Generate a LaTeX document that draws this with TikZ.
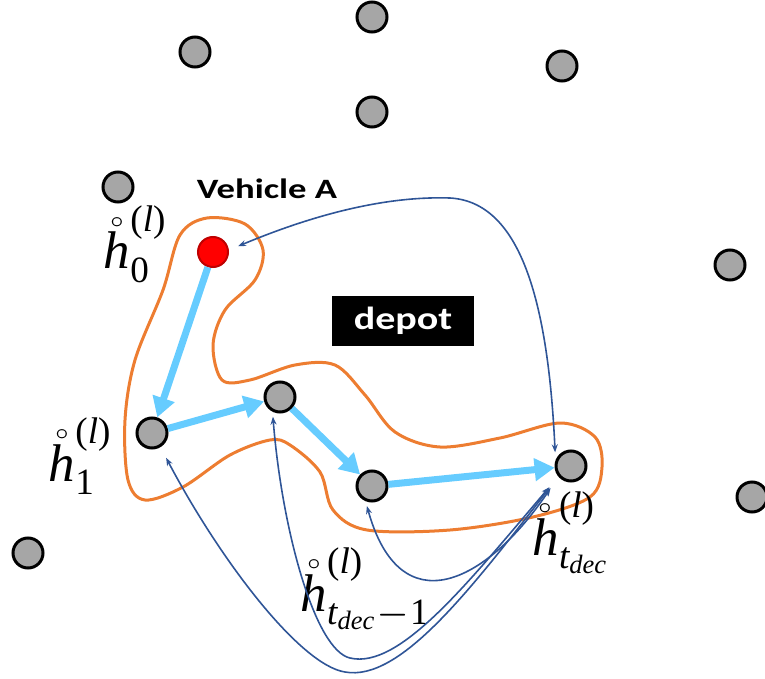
\documentclass[tikz,border=0pt]{standalone}
\usepackage{amsmath}
\usepackage{graphicx}
\usepackage{fontspec}
\setsansfont{Carlito}
\newfontfamily\timesfont{Liberation Serif}
\usepackage{tikz}
\usetikzlibrary{arrows.meta}

\definecolor{routeblue}{RGB}{102,204,255}
\definecolor{attnblue}{RGB}{47,85,151}
\definecolor{tourorange}{RGB}{237,125,49}

% h-state label: ring over italic h, superscript (l)
\newcommand{\ti}[1]{\text{\timesfont\itshape #1}}
\newcommand{\tu}[1]{\text{\timesfont\upshape #1}}
\newcommand{\hstate}[1]{\scalebox{5.3}{$\mathring{\ti{h}}_{#1}^{\tu{(}\ti{l\/}\tu{)}}$}}
\newcommand{\tdec}{\ti{t}_{\ti{dec}}}

\begin{document}
\begin{tikzpicture}[x=1pt, y=-1pt,
    custnode/.style={circle, draw=black, line width=3pt, fill=gray!70, minimum size=30pt, inner sep=0pt},
    firstnode/.style={circle, draw=red!75!black, line width=2pt, fill=red, minimum size=30pt, inner sep=0pt},
    route/.style={-{Triangle[length=20pt,width=22pt]}, line width=7pt, draw=routeblue},
    attn/.style={{Stealth[length=8pt,width=6pt]}-{Stealth[length=8pt,width=6pt]}, line width=1.6pt, draw=attnblue},
    tourline/.style={draw=tourorange, line width=3pt},
    hlabel/.style={inner sep=0pt}
]
    \useasboundingbox (0,0) rectangle (765,679);

    % Vehicle tour outline
    \draw[tourline] plot[smooth cycle, tension=0.55] coordinates {
        (207,218) (245,224) (263,250) (255,280) (225,310) (213,345) (222,380)
        (250,380) (295,365) (335,365) (365,395) (395,432) (440,447) (500,438)
        (560,423) (595,437) (602,467) (590,497) (533,517) (450,530) (367,530)
        (333,510) (320,472) (290,445) (270,440) (230,455) (183,487) (145,500)
        (128,480) (125,420) (135,360) (163,290) (180,235)};

    % Other customers
    \node[custnode] (c1) at (372,17) {};
    \node[custnode] (c2) at (195,52) {};
    \node[custnode] (c3) at (562,66) {};
    \node[custnode] (c4) at (372,112) {};
    \node[custnode] (c5) at (118,187) {};
    \node[custnode] (c6) at (730,265) {};
    \node[custnode] (c7) at (752,497) {};
    \node[custnode] (c8) at (28,553) {};

    % Visited customers
    \node[firstnode] (red) at (213,252) {};
    \node[custnode] (n1) at (152,433) {};
    \node[custnode] (n2) at (280,397) {};
    \node[custnode] (n3) at (372,486) {};
    \node[custnode] (n4) at (571,466) {};

    % Texts
    \node[font=\sffamily\bfseries\fontsize{28}{30}\selectfont] (veh) at (267,189)
        {\scalebox{1.31}[1]{Vehicle A}};
    \node[fill=black, text=white, font=\sffamily\bfseries\fontsize{32}{34}\selectfont,
          minimum width=142pt, minimum height=50pt] (depot) at (403,321)
        {\scalebox{1.25}[1]{depot}};
    \node[hlabel] (l0) at (136,244) {\hstate{\tu{0}}};
    \node[hlabel] (l1) at (81,456) {\hstate{\tu{1}}};
    \node[hlabel] (lm) at (366,589) {\hstate{\tdec-\tu{1}}};
    \node[hlabel] (ln) at (572,533) {\hstate{\tdec}};

    % Attention links
    \draw[attn, shorten <=10pt, shorten >=8pt] (red.7) .. controls (320,212) and (390,196) .. (450,198)
        .. controls (520,202) and (548,300) .. (n4.160);
    \draw[attn, shorten <=14pt, shorten >=5pt] (n4.220) .. controls (485,585) and (400,625) .. (n3.247);
    \draw[attn, shorten <=14pt, shorten >=5pt] (n4.220) .. controls (470,580) and (400,670) .. (350,658)
        .. controls (315,650) and (282,530) .. (n2.243);
    \draw[attn, shorten <=14pt, shorten >=12pt] (n4.220) .. controls (470,590) and (400,682) .. (345,672)
        .. controls (300,665) and (220,560) .. (n1.301);

    % Route
    \draw[route] (red) -- (n1);
    \draw[route] (n1) -- (n2);
    \draw[route] (n2) -- (n3);
    \draw[route] (n3) -- (n4);

\end{tikzpicture}
\end{document}
